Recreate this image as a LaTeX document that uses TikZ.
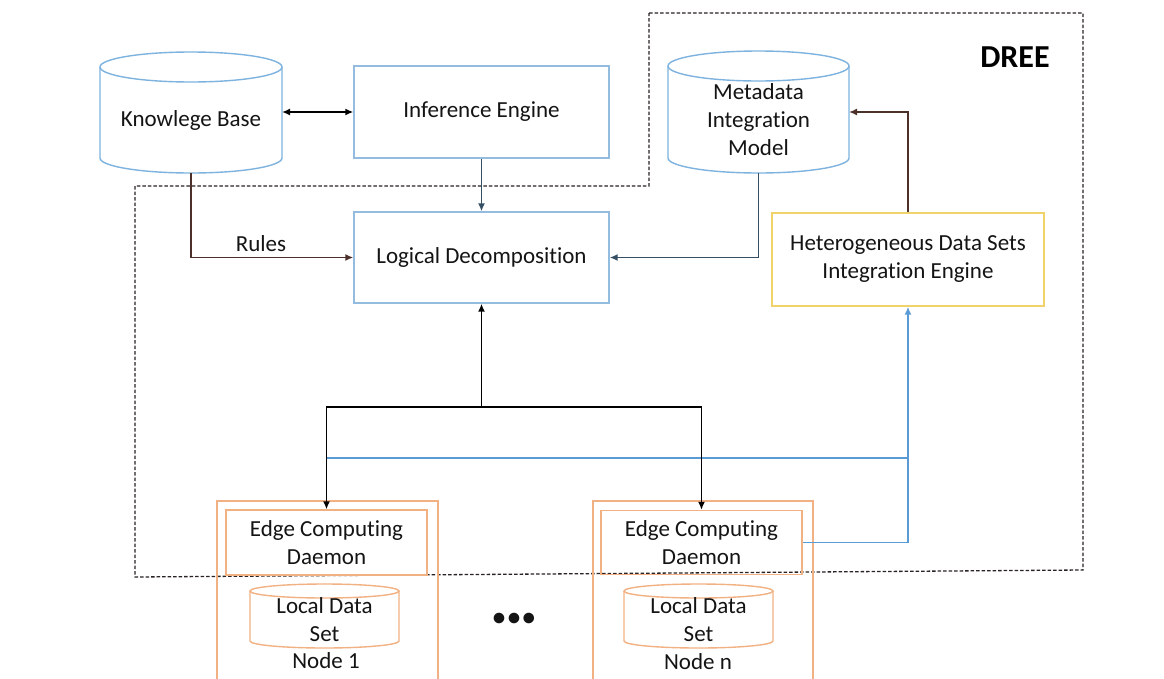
\documentclass[tikz,border=0pt]{standalone}
\usepackage{fontspec}
\setmainfont{Carlito}[Ligatures=NoCommon]
\usetikzlibrary{arrows.meta}
\definecolor{cylblue}{HTML}{7DB3DE}
\definecolor{boxblue}{HTML}{93BCDF}
\definecolor{hdsyellow}{HTML}{F0D36A}
\definecolor{nodeorange}{HTML}{F2B183}
\definecolor{brownline}{HTML}{4E302B}
\definecolor{bluedark}{HTML}{344F63}
\definecolor{blueline}{HTML}{5B9BD5}
\definecolor{dreeline}{HTML}{2A2222}
\definecolor{txt}{HTML}{141414}
\tikzset{
  lbl/.style={text=txt, font=\fontsize{23}{28}\selectfont, align=center, inner sep=0pt},
  plainbox/.style={draw=#1, line width=1.3pt, inner sep=0pt},
  hollow/.style={inner sep=0pt, outer sep=0pt},
  cylline/.style={draw=#1, line width=1.4pt},
  conn/.style={line width=1.6pt, -{Latex[length=8pt,width=7pt]}},
  dreebox/.style={draw=dreeline, line width=1.3pt, dash pattern=on 3.5pt off 2pt},
}
\begin{document}
\begin{tikzpicture}[x=1pt,y=-1pt]
\useasboundingbox (0,0) rectangle (1164,678);
\clip (0,0) rectangle (1164,678);
\fill[white] (0,0) rectangle (1164,678);

% DREE boundary
\draw[dreebox] (649,13) -- (1083,13) -- (1083,570) -- (135,577) -- (135,186) -- (649,186) -- cycle;
\node[text=black, font=\fontsize{32}{36}\selectfont\bfseries, inner sep=0pt] (dree) at (1015,57) {DREE};

% Knowledge base cylinder
\draw[cylline=cylblue] (191,67) ellipse [x radius=91, y radius=15];
\draw[cylline=cylblue] (100,67) -- (100,158) arc[start angle=180, end angle=0, x radius=91, y radius=15] -- (282,67);
\node[hollow, minimum width=182pt, minimum height=121pt] (kb) at (191,112.5) {};
\node[lbl] (kbt) at (191,120) {Knowlege Base};

% Metadata Integration Model cylinder
\draw[cylline=cylblue] (758.5,66) ellipse [x radius=90.5, y radius=15];
\draw[cylline=cylblue] (668,66) -- (668,158) arc[start angle=180, end angle=0, x radius=90.5, y radius=15] -- (849,66);
\node[hollow, minimum width=181pt, minimum height=122pt] (mim) at (758.5,112) {};
\node[lbl] (mimt) at (758.5,120) {Metadata\\Integration\\Model};

% Boxes
\node[plainbox=boxblue, lbl, minimum width=255pt, minimum height=92pt] (ie) at (481.5,112) {Inference Engine};
\node[plainbox=boxblue, lbl, minimum width=255pt, minimum height=91pt] (ld) at (481.5,257.5) {Logical Decomposition};
\node[plainbox=hdsyellow, lbl, minimum width=272pt, minimum height=93pt] (hds) at (908,259.5) {Heterogeneous Data Sets\\Integration Engine};

% Edge nodes
\node[plainbox=nodeorange, minimum width=221pt, minimum height=199pt] (n1) at (327.5,600.5) {};
\node[plainbox=nodeorange, minimum width=220pt, minimum height=199pt] (nn) at (703,600.5) {};
\node[plainbox=nodeorange, lbl, minimum width=201pt, minimum height=65pt] (ecd1) at (326.5,542.5) {Edge Computing\\Daemon};
\node[plainbox=nodeorange, lbl, minimum width=201pt, minimum height=64pt] (ecdn) at (701.5,542.5) {Edge Computing\\Daemon};

% Local data set cylinders
\draw[cylline=nodeorange] (324.5,591) ellipse [x radius=74.5, y radius=7];
\draw[cylline=nodeorange] (250,591) -- (250,641) arc[start angle=180, end angle=0, x radius=74.5, y radius=7] -- (399,591);
\node[lbl] (lds1) at (324.5,620) {Local Data\\Set};
\draw[cylline=nodeorange] (698.5,591) ellipse [x radius=74.5, y radius=7];
\draw[cylline=nodeorange] (624,591) -- (624,641) arc[start angle=180, end angle=0, x radius=74.5, y radius=7] -- (773,591);
\node[lbl] (ldsn) at (698.5,620) {Local Data\\Set};
\node[lbl] (n1t) at (326,661) {Node 1};
\node[lbl] (nnt) at (698,662) {Node n};
\node[lbl, font=\fontsize{25}{28}\selectfont\bfseries] (dots) at (514,619) {•\kern2.5pt•\kern2.5pt•};

% Connectors
\draw[line width=1.6pt, {Latex[length=8pt,width=7pt]}-{Latex[length=8pt,width=7pt]}] (kb.east |- ie.west) -- (ie.west);
\draw[conn, draw=brownline] (kb.south) |- (ld.west);
\node[lbl] (rules) at (261,244) {Rules};
\draw[conn, draw=bluedark] (ie.south) -- (ld.north);
\draw[conn, draw=bluedark] (mim.south) |- (ld.east);
\draw[conn, draw=brownline] (hds.north) |- (mim.east);

\coordinate (br) at (481.5,407);
\coordinate (bl) at (326.5,458);
\draw[line width=1.6pt, blueline] (bl) -- (hds.south |- bl);
\draw[conn, draw=blueline] (ecdn.east) -| (hds.south);
\draw[conn, draw=black] (br) -- (ld.south);
\draw[conn, draw=black] (br) -| (ecd1.north);
\draw[conn, draw=black] (br) -| (ecdn.north);
\end{tikzpicture}
\end{document}
